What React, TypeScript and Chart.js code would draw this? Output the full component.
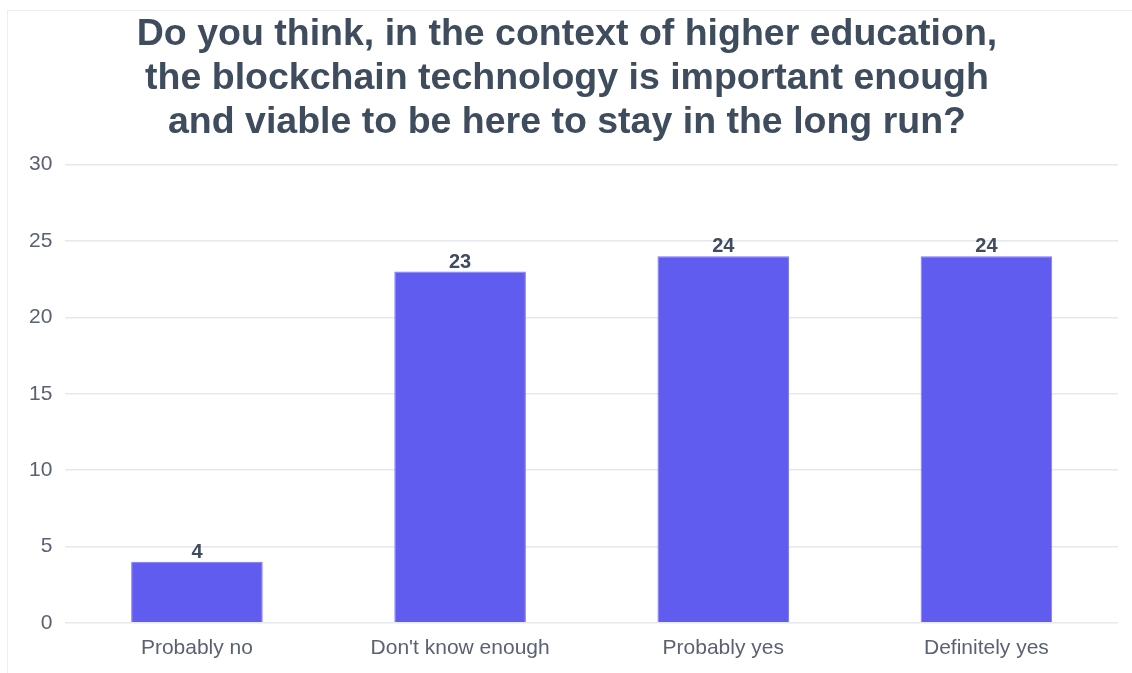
import React, { useEffect, useRef } from "react";
import { Chart, registerables } from "chart.js";

Chart.register(...registerables);

const categories = ["Probably no", "Don't know enough", "Probably yes", "Definitely yes"];
const counts = [4, 23, 24, 24];
const titleLines = [
  "Do you think, in the context of higher education,",
  "the blockchain technology is important enough",
  "and viable to be here to stay in the long run?",
];

const valueLabelPlugin = {
  id: "valueLabels",
  afterDatasetsDraw(chart: any) {
    const ctx = chart.ctx;
    const meta = chart.getDatasetMeta(0);
    const data = chart.data.datasets[0].data;
    ctx.save();
    ctx.font = "bold 20px 'Liberation Sans', Arial, sans-serif";
    ctx.fillStyle = "#3e4c5e";
    ctx.textAlign = "center";
    ctx.textBaseline = "alphabetic";
    meta.data.forEach((bar: any, i: number) => {
      ctx.fillText(String(data[i]), bar.x, bar.y - 4);
    });
    ctx.restore();
  },
};

export default function App() {
  const ref = useRef<HTMLCanvasElement>(null);
  useEffect(() => {
    document.body.style.margin = "0";
    const chart = new Chart(ref.current!, {
      type: "bar",
      data: {
        labels: categories,
        datasets: [
          {
            data: counts,
            backgroundColor: "#615cf0",
            borderColor: "#7d78f5",
            borderWidth: 1,
            barPercentage: 0.5,
            categoryPercentage: 1,
          },
        ],
      },
      options: {
        animation: false,
        responsive: false,
        layout: { padding: { left: 16, right: 14, top: 0, bottom: 7 } },
        plugins: {
          legend: { display: false },
          tooltip: { enabled: false },
          title: {
            display: true,
            text: titleLines,
            color: "#3e4c5e",
            font: { family: "'Liberation Sans', Arial, sans-serif", size: 37.5, weight: "bold", lineHeight: 1.17 },
            padding: { top: 13, bottom: 20 },
          },
        },
        scales: {
          x: {
            grid: { display: false },
            border: { display: false },
            ticks: {
              color: "#5a6272",
              font: { family: "'Liberation Sans', Arial, sans-serif", size: 21 },
              padding: 5,
            },
          },
          y: {
            min: 0,
            max: 30,
            ticks: {
              stepSize: 5,
              color: "#5a6272",
              font: { family: "'Liberation Sans', Arial, sans-serif", size: 21 },
              padding: 13,
            },
            grid: { color: "#e6e8ee", drawTicks: false, lineWidth: 1.5 },
            border: { display: false },
          },
        },
      },
      plugins: [valueLabelPlugin],
    });
    return () => chart.destroy();
  }, []);
  return (
    <div style={{ position: "relative", width: 1132, height: 673, background: "#fff", overflow: "hidden" }}>
      <div
        style={{
          position: "absolute",
          left: 7,
          top: 10,
          width: 1200,
          height: 700,
          borderTop: "1.5px solid #eceef2",
          borderLeft: "1.5px solid #eceef2",
        }}
      />
      <canvas ref={ref} width={1132} height={673} style={{ position: "absolute", left: 0, top: 0 }} />
    </div>
  );
}
